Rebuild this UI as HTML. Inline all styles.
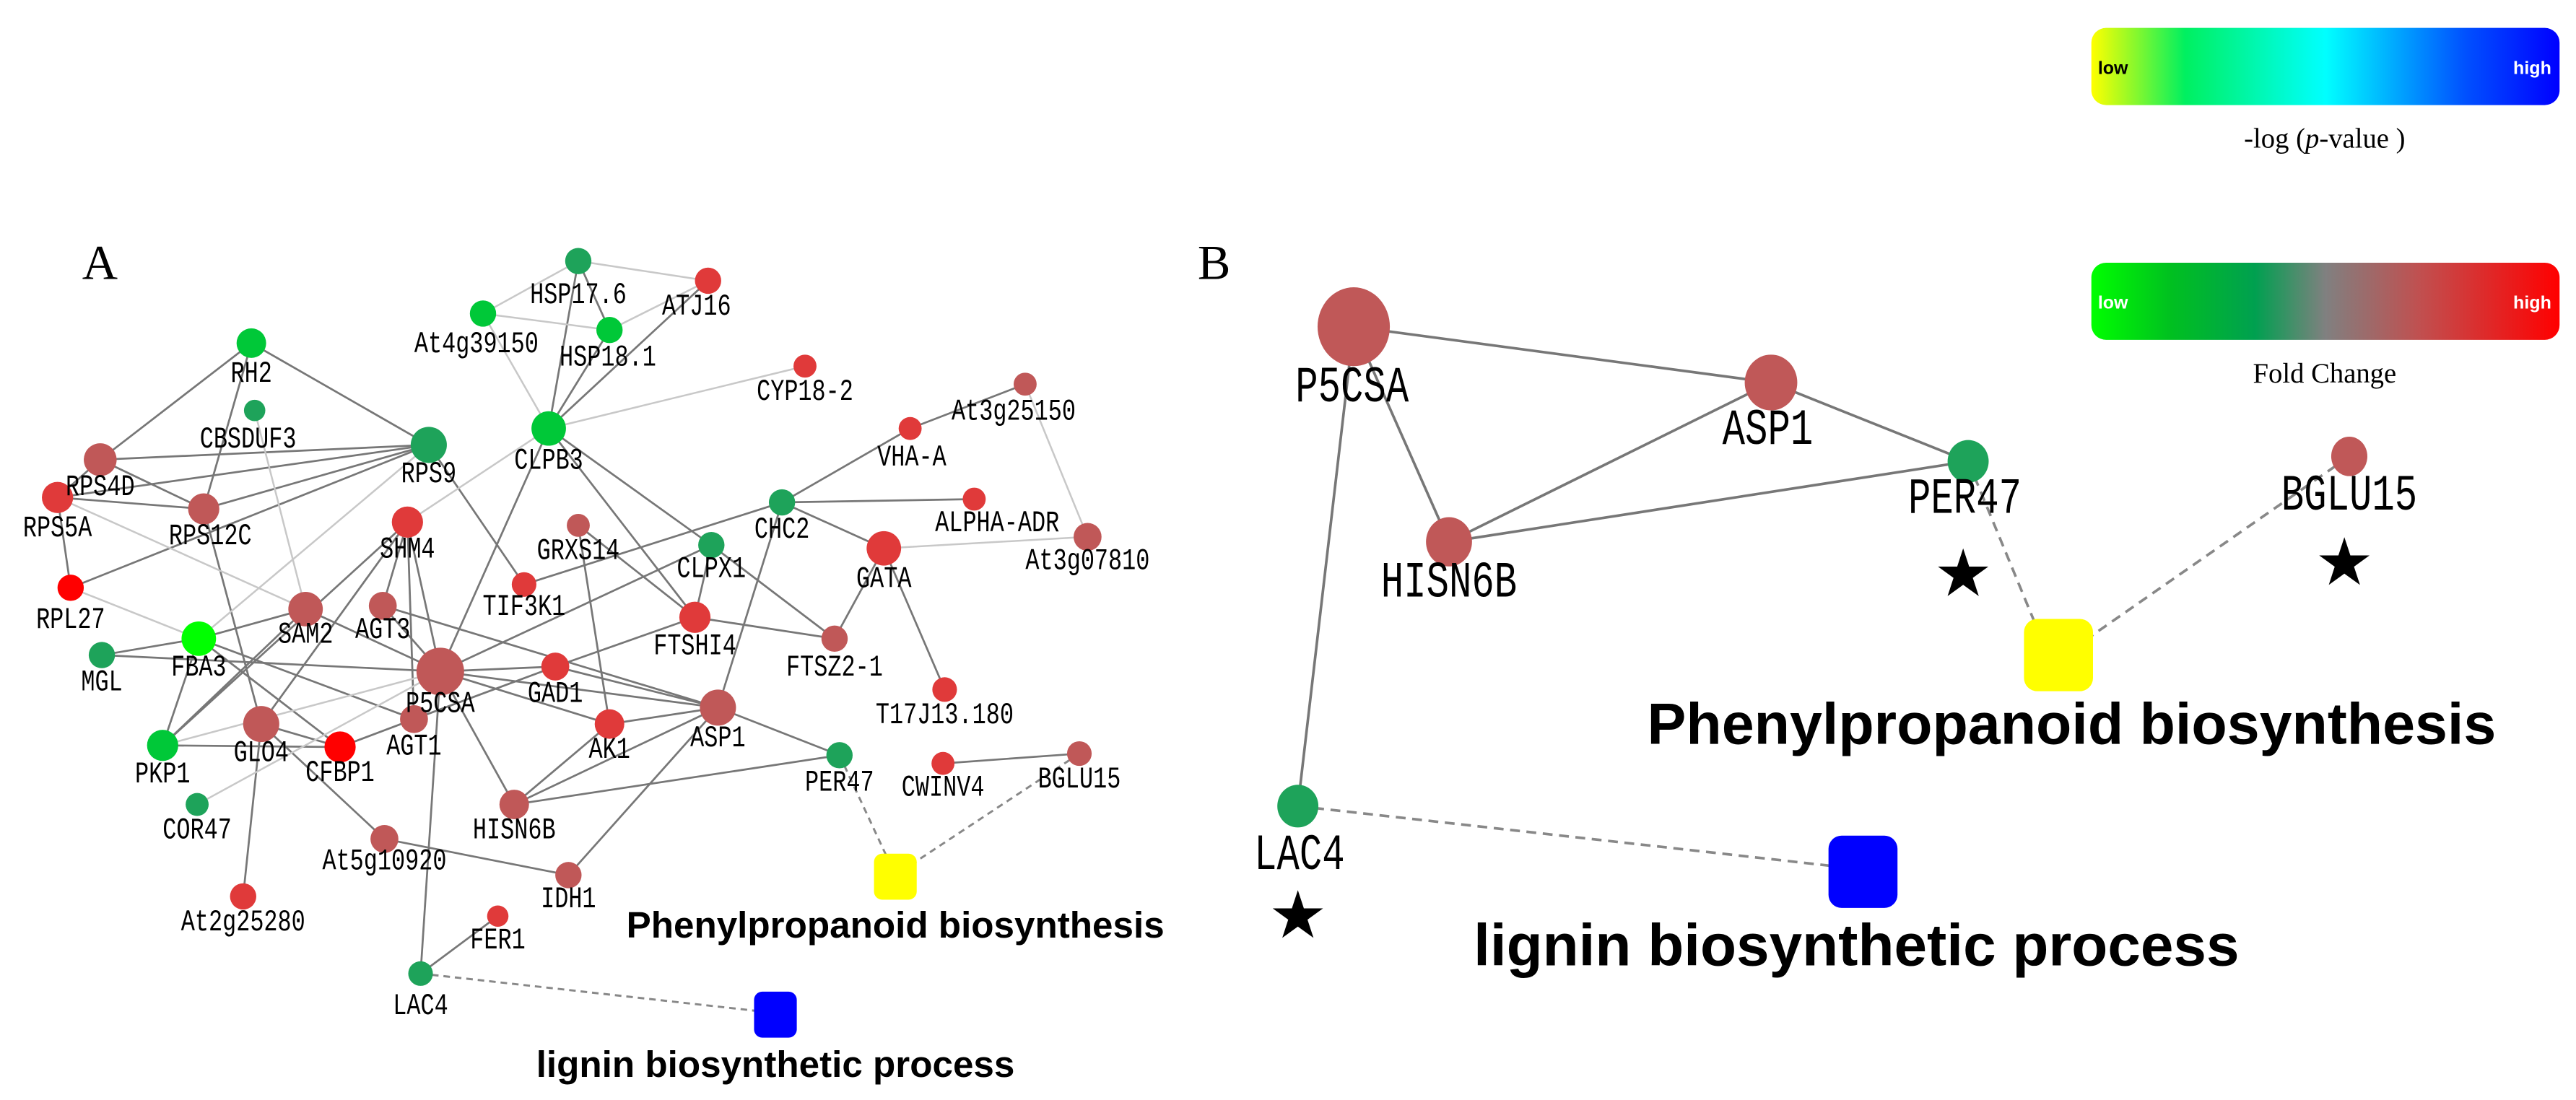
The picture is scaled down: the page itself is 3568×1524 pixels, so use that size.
<!DOCTYPE html>
<html><head><meta charset="utf-8"><style>
html,body{margin:0;padding:0;background:#fff;}
svg{display:block;}
.l{font-family:"Liberation Mono",monospace;font-size:14px;fill:#000;text-anchor:middle;transform-box:fill-box;transform-origin:50% 80%;transform:scaleY(1.3);}
.lb{font-family:"Liberation Mono",monospace;font-size:23px;fill:#000;text-anchor:middle;transform-box:fill-box;transform-origin:50% 80%;transform:scaleY(1.35);}
.e{stroke:#777;stroke-width:1.2;fill:none;}
.f{stroke:#c8c8c8;stroke-width:1.1;fill:none;}
.d{stroke:#888;stroke-width:1.3;stroke-dasharray:4,3;fill:none;}
.R{fill:#c05858;}.r{fill:#e03a3a;}.P{fill:#ff0000;}.G{fill:#1ea35a;}.g{fill:#00c838;}.L{fill:#00ff00;}
.big{font-family:"Liberation Sans",Arial,sans-serif;font-weight:bold;fill:#000;text-anchor:middle;}
</style></head><body>
<svg width="3568" height="1524" viewBox="0 0 1568 670" preserveAspectRatio="none" xmlns="http://www.w3.org/2000/svg">
<defs>
<linearGradient id="g1" x1="0" x2="1" y1="0" y2="0">
<stop offset="0" stop-color="#ffff00"/><stop offset="0.2" stop-color="#00f060"/><stop offset="0.5" stop-color="#00ffff"/><stop offset="0.8" stop-color="#0050ff"/><stop offset="1" stop-color="#0000ff"/></linearGradient>
<linearGradient id="g2" x1="0" x2="1" y1="0" y2="0">
<stop offset="0" stop-color="#00ff00"/><stop offset="0.17" stop-color="#00c020"/><stop offset="0.35" stop-color="#00a050"/><stop offset="0.5" stop-color="#808080"/><stop offset="0.7" stop-color="#c05050"/><stop offset="1" stop-color="#ff0000"/></linearGradient>
</defs>

<!-- legends -->
<rect x="1273" y="17" width="285" height="47" rx="9" fill="url(#g1)"/>
<text x="1277" y="45" font-family="Liberation Sans,sans-serif" font-weight="bold" font-size="11">low</text>
<text x="1553" y="45" font-family="Liberation Sans,sans-serif" font-weight="bold" font-size="11" fill="#fff" text-anchor="end">high</text>
<text x="1415" y="90" font-family="Liberation Serif,serif" font-size="17" text-anchor="middle">-log (<tspan font-style="italic">p</tspan>-value )</text>
<rect x="1273" y="160" width="285" height="47" rx="9" fill="url(#g2)"/>
<text x="1277" y="188" font-family="Liberation Sans,sans-serif" font-weight="bold" font-size="11" fill="#fff">low</text>
<text x="1553" y="188" font-family="Liberation Sans,sans-serif" font-weight="bold" font-size="11" fill="#fff" text-anchor="end">high</text>
<text x="1415" y="233" font-family="Liberation Serif,serif" font-size="17" text-anchor="middle">Fold Change</text>

<text x="50" y="170" font-family="Liberation Serif,serif" font-size="30">A</text>
<text x="729" y="170" font-family="Liberation Serif,serif" font-size="30">B</text>

<!-- panel A edges -->
<g class="e">
<line x1="153" y1="209" x2="61" y2="280"/><line x1="153" y1="209" x2="261" y2="271"/><line x1="153" y1="209" x2="124" y2="310"/>
<line x1="61" y1="280" x2="261" y2="271"/><line x1="61" y1="280" x2="35" y2="303"/><line x1="61" y1="280" x2="124" y2="310"/>
<line x1="35" y1="303" x2="261" y2="271"/><line x1="35" y1="303" x2="124" y2="310"/><line x1="124" y1="310" x2="261" y2="271"/>
<line x1="35" y1="303" x2="43" y2="358"/><line x1="43" y1="358" x2="261" y2="271"/>
<line x1="124" y1="310" x2="159" y2="441"/><line x1="261" y1="271" x2="319" y2="356"/>
<line x1="334" y1="261" x2="352" y2="159"/><line x1="334" y1="261" x2="371" y2="201"/><line x1="334" y1="261" x2="431" y2="171"/>
<line x1="352" y1="159" x2="371" y2="201"/>
<line x1="334" y1="261" x2="268" y2="409"/><line x1="334" y1="261" x2="423" y2="376"/><line x1="334" y1="261" x2="433" y2="332"/>
<line x1="248" y1="318" x2="233" y2="369"/><line x1="248" y1="318" x2="268" y2="409"/><line x1="248" y1="318" x2="252" y2="438"/>
<line x1="248" y1="318" x2="159" y2="441"/><line x1="248" y1="318" x2="99" y2="454"/>
<line x1="186" y1="371" x2="121" y2="389"/><line x1="186" y1="371" x2="268" y2="409"/><line x1="186" y1="371" x2="99" y2="454"/>
<line x1="233" y1="369" x2="437" y2="431"/><line x1="233" y1="369" x2="268" y2="409"/>
<line x1="352" y1="320" x2="423" y2="376"/><line x1="352" y1="320" x2="371" y2="441"/>
<line x1="319" y1="356" x2="476" y2="306"/>
<line x1="62" y1="399" x2="121" y2="389"/><line x1="62" y1="399" x2="268" y2="409"/>
<line x1="121" y1="389" x2="252" y2="438"/><line x1="121" y1="389" x2="207" y2="455"/><line x1="121" y1="389" x2="99" y2="454"/>
<line x1="476" y1="306" x2="554" y2="261"/><line x1="554" y1="261" x2="624" y2="234"/><line x1="476" y1="306" x2="593" y2="304"/>
<line x1="476" y1="306" x2="538" y2="334"/><line x1="476" y1="306" x2="437" y2="431"/>
<line x1="538" y1="334" x2="508" y2="389"/><line x1="538" y1="334" x2="575" y2="420"/>
<line x1="433" y1="332" x2="423" y2="376"/><line x1="433" y1="332" x2="508" y2="389"/><line x1="433" y1="332" x2="268" y2="409"/>
<line x1="423" y1="376" x2="508" y2="389"/><line x1="423" y1="376" x2="338" y2="406"/>
<line x1="268" y1="409" x2="338" y2="406"/><line x1="268" y1="409" x2="437" y2="431"/><line x1="268" y1="409" x2="371" y2="441"/>
<line x1="268" y1="409" x2="313" y2="490"/><line x1="268" y1="409" x2="256" y2="593"/>
<line x1="338" y1="406" x2="437" y2="431"/><line x1="338" y1="406" x2="252" y2="438"/>
<line x1="371" y1="441" x2="437" y2="431"/><line x1="437" y1="431" x2="511" y2="460"/><line x1="437" y1="431" x2="313" y2="490"/>
<line x1="437" y1="431" x2="346" y2="533"/><line x1="371" y1="441" x2="313" y2="490"/><line x1="511" y1="460" x2="313" y2="490"/>
<line x1="574" y1="465" x2="657" y2="459"/>
<line x1="99" y1="454" x2="207" y2="455"/><line x1="159" y1="441" x2="207" y2="455"/><line x1="207" y1="455" x2="252" y2="438"/>
<line x1="159" y1="441" x2="148" y2="546"/><line x1="159" y1="441" x2="234" y2="511"/><line x1="234" y1="511" x2="346" y2="533"/>
<line x1="256" y1="593" x2="303" y2="558"/>
</g>
<g class="f">
<line x1="352" y1="159" x2="294" y2="191"/><line x1="352" y1="159" x2="431" y2="171"/><line x1="294" y1="191" x2="371" y2="201"/>
<line x1="371" y1="201" x2="431" y2="171"/><line x1="294" y1="191" x2="334" y2="261"/><line x1="334" y1="261" x2="490" y2="223"/>
<line x1="334" y1="261" x2="248" y2="318"/><line x1="155" y1="250" x2="186" y2="371"/><line x1="35" y1="303" x2="186" y2="371"/>
<line x1="43" y1="358" x2="121" y2="389"/><line x1="261" y1="271" x2="121" y2="389"/>
<line x1="624" y1="234" x2="662" y2="327"/><line x1="538" y1="334" x2="662" y2="327"/>
<line x1="99" y1="454" x2="268" y2="409"/><line x1="120" y1="490" x2="268" y2="409"/>
</g>
<line class="d" x1="511" y1="460" x2="545" y2="533"/><line class="d" x1="657" y1="459" x2="545" y2="533"/>
<line class="d" x1="256" y1="593" x2="472" y2="617"/>

<!-- panel A nodes -->
<circle class="G" cx="352" cy="159" r="8"/><circle class="r" cx="431" cy="171" r="8"/><circle class="g" cx="294" cy="191" r="8"/>
<circle class="g" cx="371" cy="201" r="8"/><circle class="g" cx="153" cy="209" r="9"/><circle class="G" cx="155" cy="250" r="6.5"/>
<circle class="R" cx="61" cy="280" r="10"/><circle class="G" cx="261" cy="271" r="11"/><circle class="g" cx="334" cy="261" r="10.5"/>
<circle class="r" cx="490" cy="223" r="7"/><circle class="R" cx="624" cy="234" r="7"/><circle class="r" cx="554" cy="261" r="7"/>
<circle class="r" cx="35" cy="303" r="9.5"/><circle class="R" cx="124" cy="310" r="9.5"/><circle class="r" cx="248" cy="318" r="9.5"/>
<circle class="R" cx="352" cy="320" r="7"/><circle class="G" cx="476" cy="306" r="8"/><circle class="r" cx="593" cy="304" r="7"/>
<circle class="R" cx="662" cy="327" r="8.5"/><circle class="G" cx="433" cy="332" r="8"/><circle class="r" cx="538" cy="334" r="10.5"/>
<circle class="P" cx="43" cy="358" r="8"/><circle class="r" cx="319" cy="356" r="7.5"/><circle class="R" cx="186" cy="371" r="10.5"/>
<circle class="R" cx="233" cy="369" r="8.5"/><circle class="r" cx="423" cy="376" r="9.5"/><circle class="R" cx="508" cy="389" r="8"/>
<circle class="L" cx="121" cy="389" r="10.5"/><circle class="G" cx="62" cy="399" r="8"/><circle class="R" cx="268" cy="409" r="14.5"/>
<circle class="r" cx="338" cy="406" r="8.5"/><circle class="r" cx="575" cy="420" r="7.5"/><circle class="r" cx="371" cy="441" r="9"/>
<circle class="R" cx="437" cy="431" r="11"/><circle class="g" cx="99" cy="454" r="9.5"/><circle class="R" cx="159" cy="441" r="11"/>
<circle class="P" cx="207" cy="455" r="9.5"/><circle class="R" cx="252" cy="438" r="8.5"/><circle class="G" cx="120" cy="490" r="7"/>
<circle class="R" cx="313" cy="490" r="9"/><circle class="G" cx="511" cy="460" r="8"/><circle class="r" cx="574" cy="465" r="7"/>
<circle class="R" cx="657" cy="459" r="7.5"/><circle class="R" cx="234" cy="511" r="8.5"/><circle class="R" cx="346" cy="533" r="8"/>
<circle class="r" cx="148" cy="546" r="8"/><circle class="r" cx="303" cy="558" r="6.5"/><circle class="G" cx="256" cy="593" r="7.5"/>
<rect x="532" y="520" width="26" height="28" rx="5" fill="#ffff00"/>
<rect x="459" y="604" width="26" height="28" rx="5" fill="#0000ff"/>

<!-- panel A labels -->
<g>
<text class="l" x="352" y="185">HSP17.6</text><text class="l" x="424" y="192">ATJ16</text><text class="l" x="290" y="215">At4g39150</text>
<text class="l" x="370" y="223">HSP18.1</text><text class="l" x="153" y="233">RH2</text><text class="l" x="151" y="273">CBSDUF3</text>
<text class="l" x="61" y="302">RPS4D</text><text class="l" x="261" y="294">RPS9</text><text class="l" x="334" y="286">CLPB3</text>
<text class="l" x="490" y="244">CYP18-2</text><text class="l" x="617" y="256">At3g25150</text><text class="l" x="555" y="284">VHA-A</text>
<text class="l" x="35" y="327">RPS5A</text><text class="l" x="128" y="332">RPS12C</text><text class="l" x="248" y="340">SHM4</text>
<text class="l" x="352" y="341">GRXS14</text><text class="l" x="476" y="328">CHC2</text><text class="l" x="607" y="324">ALPHA-ADR</text>
<text class="l" x="662" y="347">At3g07810</text><text class="l" x="433" y="352">CLPX1</text><text class="l" x="538" y="358">GATA</text>
<text class="l" x="43" y="383">RPL27</text><text class="l" x="319" y="375">TIF3K1</text><text class="l" x="186" y="392">SAM2</text>
<text class="l" x="233" y="389">AGT3</text><text class="l" x="423" y="399">FTSHI4</text><text class="l" x="508" y="412">FTSZ2-1</text>
<text class="l" x="121" y="412">FBA3</text><text class="l" x="62" y="421">MGL</text><text class="l" x="268" y="434">P5CSA</text>
<text class="l" x="338" y="428">GAD1</text><text class="l" x="575" y="441">T17J13.180</text><text class="l" x="371" y="462">AK1</text>
<text class="l" x="437" y="455">ASP1</text><text class="l" x="99" y="477">PKP1</text><text class="l" x="159" y="464">GLO4</text>
<text class="l" x="207" y="476">CFBP1</text><text class="l" x="252" y="460">AGT1</text><text class="l" x="120" y="511">COR47</text>
<text class="l" x="313" y="511">HISN6B</text><text class="l" x="511" y="482">PER47</text><text class="l" x="574" y="485">CWINV4</text>
<text class="l" x="657" y="480">BGLU15</text><text class="l" x="234" y="530">At5g10920</text><text class="l" x="346" y="553">IDH1</text>
<text class="l" x="148" y="567">At2g25280</text><text class="l" x="303" y="578">FER1</text><text class="l" x="256" y="618">LAC4</text>
</g>
<text class="big" x="545" y="571" font-size="22.5">Phenylpropanoid biosynthesis</text>
<text class="big" x="472" y="656" font-size="22.5">lignin biosynthetic process</text>

<!-- panel B -->
<g stroke="#777" stroke-width="1.6">
<line x1="824" y1="199" x2="1078" y2="233"/><line x1="824" y1="199" x2="882" y2="330"/><line x1="1078" y1="233" x2="882" y2="330"/>
<line x1="1078" y1="233" x2="1198" y2="281"/><line x1="882" y1="330" x2="1198" y2="281"/><line x1="824" y1="199" x2="790" y2="491"/>
</g>
<g stroke="#888" stroke-width="1.6" stroke-dasharray="6,4">
<line x1="1198" y1="281" x2="1243" y2="390"/><line x1="1430" y1="278" x2="1262" y2="395"/><line x1="790" y1="491" x2="1120" y2="528"/>
</g>
<ellipse class="R" cx="824" cy="199" rx="22" ry="24"/>
<ellipse class="R" cx="1078" cy="233" rx="16" ry="17"/>
<ellipse class="R" cx="882" cy="330" rx="14" ry="15"/>
<ellipse class="G" cx="1198" cy="281" rx="12.5" ry="13"/>
<ellipse class="R" cx="1430" cy="278" rx="11" ry="12"/>
<ellipse class="G" cx="790" cy="491" rx="12.5" ry="13"/>
<rect x="1232" y="377" width="42" height="44" rx="8" fill="#ffff00"/>
<rect x="1113" y="509" width="42" height="44" rx="8" fill="#0000ff"/>
<g>
<text class="lb" x="823" y="245">P5CSA</text><text class="lb" x="1076" y="271">ASP1</text><text class="lb" x="882" y="364">HISN6B</text>
<text class="lb" x="1196" y="313">PER47</text><text class="lb" x="1430" y="311">BGLU15</text><text class="lb" x="791" y="530">LAC4</text>
</g>
<g font-family="DejaVu Sans,sans-serif" font-size="40" text-anchor="middle">
<text x="1195" y="363">★</text><text x="1427" y="356">★</text><text x="790" y="571">★</text>
</g>
<text class="big" x="1261" y="453" font-size="35.5">Phenylpropanoid biosynthesis</text>
<text class="big" x="1130" y="588" font-size="36">lignin biosynthetic process</text>
</svg>
</body></html>
